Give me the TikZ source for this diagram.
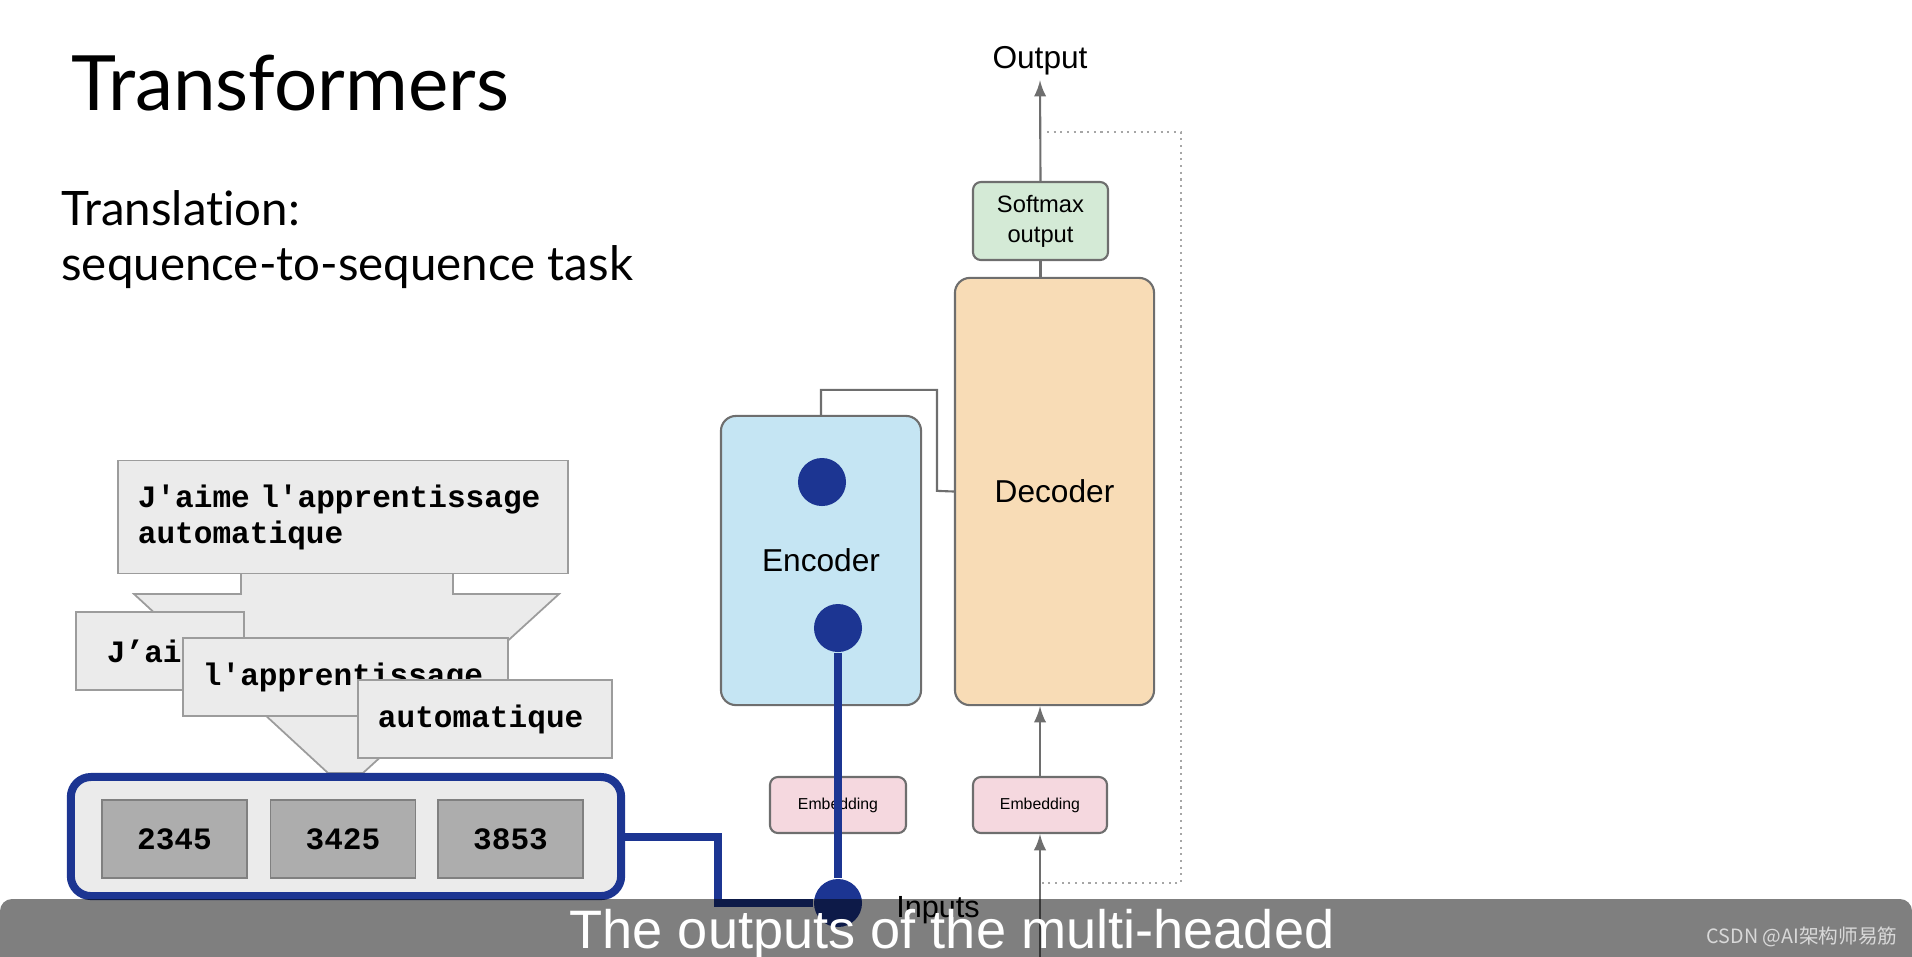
\documentclass[tikz,border=0pt]{standalone}
\usepackage{fontspec}
\setmainfont{Lato}[Ligatures=CommonOff]
\newfontfamily\arial{Liberation Sans}
\newfontfamily\courier{Liberation Mono}[Ligatures=TeXOff, WordSpace={1,0,0}]
\newfontfamily\cjk{Noto Sans CJK SC}

\definecolor{boxgray}{HTML}{EBEBEB}
\definecolor{edgegray}{HTML}{9C9C9C}
\definecolor{numgray}{HTML}{ADADAD}
\definecolor{navy}{HTML}{1C3592}
\definecolor{encblue}{HTML}{C5E5F3}
\definecolor{decpeach}{HTML}{F8DCB6}
\definecolor{softgreen}{HTML}{D4EAD6}
\definecolor{embpink}{HTML}{F5D8DF}
\definecolor{linegray}{HTML}{6E6E6E}

\begin{document}
\begin{tikzpicture}[x=0.01cm,y=-0.01cm]
	\tikzset{wordbox/.style={draw=edgegray, fill=boxgray, line width=0.5pt, font=\courier\bfseries\fontsize{8.85}{10.2}\selectfont}}
	\tikzset{wordtext/.style={wordbox, align=left, inner xsep=0.2cm, minimum height=0.78cm}}
	\tikzset{numbox/.style={wordbox, draw=gray, fill=numgray, minimum width=1.45cm, minimum height=0.78cm}}
	\tikzset{block/.style={draw=linegray, line width=0.6pt, rounded corners=0.15cm, font=\arial\fontsize{9}{11}\selectfont}}
	\tikzset{smallbox/.style={draw=linegray, line width=0.6pt, rounded corners=0.08cm}}
	\tikzset{navydot/.style={circle, fill=navy, minimum size=0.48cm, inner sep=0pt}}
	\tikzset{wire/.style={navy, line width=0.08cm}}
	\tikzset{link/.style={draw=linegray, line width=0.6pt}}
	\tikzset{arr/.style={link, -latex}}
	\tikzset{feedback/.style={draw=gray!70, line width=0.6pt, dash pattern=on 0.6pt off 1.3pt}}
	\useasboundingbox (0,0) rectangle (1912,956);

	% Title and task
	\node [anchor=base west, font=\fontsize{21.7}{26}\selectfont] (title) at (59,110) {Transformers};
	\node [anchor=base west, font=\fontsize{13.5}{16}\selectfont] (trans) at (49,225) {Translation:};
	\node [anchor=base west, font=\fontsize{13.5}{16}\selectfont] (seq) at (49,280) {sequence-to-sequence task};

	% Draw the funnel
	\draw[edgegray, fill=boxgray, line width=0.5pt] (241,571) -- (241,594) -- (134,594) -- (328,773) -- (363,773) -- (559,594) -- (453,594) -- (453,571) -- cycle;

	\node [wordbox, minimum width=4.5cm, minimum height=1.13cm, text width=4.1cm, align=left] (sentence) at (343,517) {J'aime l'apprentissage\\automatique};
	\node [wordtext, text width=1.06cm, inner xsep=0.31cm] (w1) at (160,651) {J’aime};
	\node [wordtext, text width=2.85cm] (w2) at (345.5,677) {l'apprentissage};
	\node [wordtext, text width=2.14cm] (w3) at (485,719) {automatique};

	% Token ids
	\node [draw=navy, line width=0.08cm, fill=boxgray, rounded corners=0.2cm, minimum width=5.5cm, minimum height=1.19cm] (tokens) at (346,836.5) {};
	\node [numbox] (num1) at (174.5,839) {2345};
	\node [numbox] (num2) at (343,839) {3425};
	\node [numbox] (num3) at (510.5,839) {3853};

	% Encoder / decoder
	\node [block, fill=encblue, minimum width=2cm, minimum height=2.89cm] (enc) at (821,560.5) {Encoder};
	\node [block, fill=decpeach, minimum width=1.99cm, minimum height=4.27cm] (dec) at (1054.5,491.5) {Decoder};
	\node [smallbox, fill=softgreen, minimum width=1.35cm, minimum height=0.78cm, align=center, font=\arial\fontsize{6.75}{8.5}\selectfont] (soft) at (1040.5,221) {Softmax\\output};
	\node [smallbox, fill=embpink, minimum width=1.36cm, minimum height=0.56cm, font=\arial\fontsize{4.5}{5}\selectfont] (embenc) at (838,805) {Embedding};
	\node [smallbox, fill=embpink, minimum width=1.34cm, minimum height=0.56cm, font=\arial\fontsize{4.5}{5}\selectfont] (embdec) at (1040,805) {Embedding};

	\node [anchor=base, inner sep=0.05cm, font=\arial\fontsize{9}{11}\selectfont] (out) at (1040,68) {Output};
	\node [anchor=base, font=\arial\fontsize{8.7}{11}\selectfont] (inp) at (938,917) {Inputs};

	\coordinate (decin) at (1040,970);
	\coordinate (fbtop) at (1047,132);
	\coordinate (fbbot) at (1042,883);

	\draw[arr] (soft.north) -- (out.south);
	\draw[link] (soft.south) -- (soft.south |- dec.north);
	\draw[arr] (embdec.north) -- (embdec.north |- dec.south);
	\draw[arr] (decin) -- (embdec.south);
	\draw[link] (enc.north) -- ++(0,-25) -| ++(116,101) -- (dec.west);
	\draw[feedback] (fbtop) -| (1181,883) -- (fbbot);

	% Blue path
	\node [navydot] (dottop) at (822,482) {};
	\node [navydot] (dotmid) at (838,628) {};
	\node [navydot] (dotin) at (838,903) {};
	\draw[wire] (tokens.east) -- ++(93,0) |- (dotin);
	\draw[wire] (dotmid) -- (dotin);

	% Subtitle band
	\fill[black, fill opacity=0.5, rounded corners=0.12cm] (0,899) rectangle (1912,990);
	\node [anchor=base, text=white, font=\arial\fontsize{15.4}{18}\selectfont] (caption) at (952,948) {The outputs of the multi-headed};
	\node [anchor=base east, text=white!85!black, font=\cjk\fontsize{5.6}{7}\selectfont] (mark) at (1910,943) {CSDN @AI架构师易筋};
\end{tikzpicture}
\end{document}
